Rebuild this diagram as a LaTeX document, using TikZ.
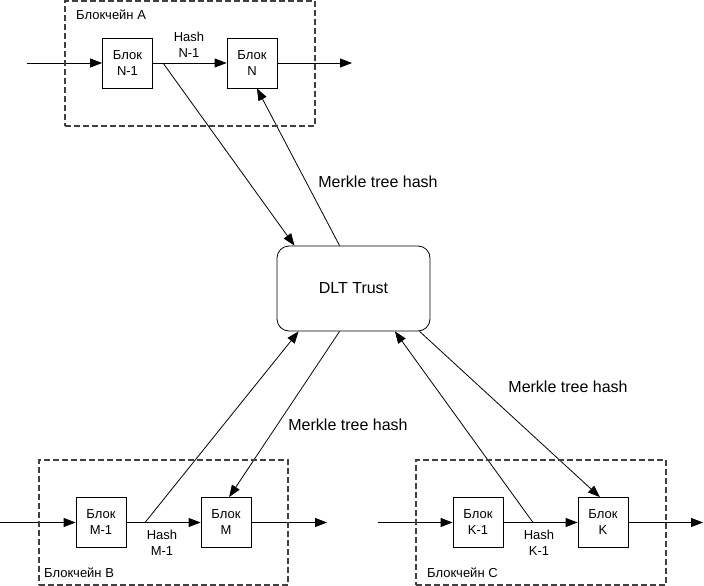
\documentclass[tikz,border=0pt]{standalone}
\usepackage{fontspec}
\setmainfont{Liberation Sans}
\usepackage{tikz}
\usetikzlibrary{shapes}
\usetikzlibrary{shapes.geometric}
\usetikzlibrary{arrows.meta}
\pgfdeclarelayer{edgelayer}
\pgfdeclarelayer{nodelayer}
\pgfsetlayers{edgelayer,nodelayer,main}
\tikzstyle{none}=[inner sep=0pt]
\tikzstyle{small}=[inner sep=0pt, align=center, font=\fontsize{13}{16}\selectfont]
\tikzstyle{large}=[inner sep=0pt, align=center, font=\fontsize{16}{19}\selectfont]
\tikzstyle{chain label}=[small, anchor=west]
\tikzstyle{block}=[small, draw, line width=0.8pt, minimum width=50pt, minimum height=50pt, fill=white]
\tikzstyle{frame}=[inner sep=0pt, draw=black!75, dash pattern=on 6pt off 3pt, line width=1.2pt]
\tikzstyle{trust}=[large, draw, line width=0.8pt, rounded corners=12pt, minimum width=153pt, minimum height=85pt, fill=white]
\tikzstyle{arrow}=[line width=0.8pt, -{Triangle[length=12pt, width=9pt]}]

\begin{document}
\begin{tikzpicture}[x=10pt, y=10pt]
	\useasboundingbox (0, 0) rectangle (70.4, -58.6);
	\begin{pgfonlayer}{nodelayer}
		\node [style=frame, minimum width=250pt, minimum height=125pt] (0) at (19, -6.35) {};
		\node [style=chain label] (1) at (7.6, -1.5) {Блокчейн A};
		\node [style=block] (2) at (12.75, -6.3) {Блок\\N-1};
		\node [style=block] (3) at (25.2, -6.3) {Блок\\N};
		\node [style=small] (4) at (18.9, -4.5) {Hash\\N-1};
		\node [style=frame, minimum width=249pt, minimum height=125pt] (5) at (16.35, -52.25) {};
		\node [style=chain label] (6) at (4.4, -57.3) {Блокчейн B};
		\node [style=block] (7) at (10.1, -52.25) {Блок\\M-1};
		\node [style=block] (8) at (22.6, -52.25) {Блок\\M};
		\node [style=small] (9) at (16.2, -54.25) {Hash\\M-1};
		\node [style=frame, minimum width=250pt, minimum height=125pt] (10) at (54.1, -52.25) {};
		\node [style=chain label] (11) at (42.7, -57.3) {Блокчейн C};
		\node [style=block] (12) at (47.8, -52.25) {Блок\\K-1};
		\node [style=block] (13) at (60.3, -52.25) {Блок\\K};
		\node [style=small] (14) at (53.9, -54.25) {Hash\\K-1};
		\node [style=trust] (15) at (35.35, -28.85) {DLT Trust};
		\node [style=large] (16) at (37.8, -18.2) {Merkle tree hash};
		\node [style=large] (17) at (34.8, -42.5) {Merkle tree hash};
		\node [style=large] (18) at (56.8, -38.7) {Merkle tree hash};
		\coordinate (19) at (2.7, -6.3);
		\coordinate (20) at (35.2, -6.3);
		\coordinate (21) at (16.3, -6.3);
		\coordinate (22) at (0, -52.25);
		\coordinate (23) at (32.7, -52.25);
		\coordinate (24) at (14.5, -52.25);
		\coordinate (25) at (37.8, -52.25);
		\coordinate (26) at (70.3, -52.25);
		\coordinate (27) at (53.3, -52.25);
	\end{pgfonlayer}
	\begin{pgfonlayer}{edgelayer}
		\draw [style=arrow] (19) to (2);
		\draw [style=arrow] (2) to (3);
		\draw [style=arrow] (3) to (20);
		\draw [style=arrow] (22) to (7);
		\draw [style=arrow] (7) to (8);
		\draw [style=arrow] (8) to (23);
		\draw [style=arrow] (25) to (12);
		\draw [style=arrow] (12) to (13);
		\draw [style=arrow] (13) to (26);
		\draw [style=arrow] (21) to (15.144);
		\draw [style=arrow] (15.108) to (3.281);
		\draw [style=arrow] (24) to (15.218);
		\draw [style=arrow] (15.252) to (8.83);
		\draw [style=arrow] (27) to (15.314);
		\draw [style=arrow] (15.327) to (13.97);
	\end{pgfonlayer}
\end{tikzpicture}
\end{document}
